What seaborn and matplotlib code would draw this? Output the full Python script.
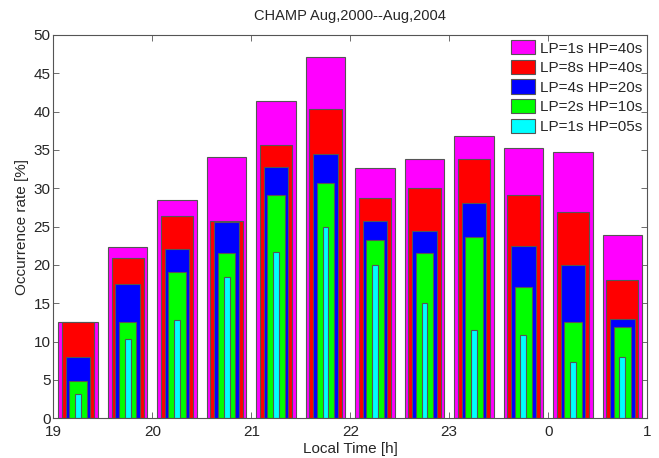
import matplotlib
matplotlib.use("Agg")
import matplotlib.pyplot as plt
from matplotlib.patches import Patch
import seaborn as sns
import pandas as pd

# Data
hours = [19.25, 19.75, 20.25, 20.75, 21.25, 21.75, 22.25, 22.75, 23.25, 23.75, 24.25, 24.75]
lp1_hp40 = [12.6, 22.3, 28.5, 34.1, 41.4, 47.1, 32.6, 33.8, 36.8, 35.3, 34.7, 23.9]
lp8_hp40 = [12.6, 20.9, 26.4, 25.7, 35.6, 40.3, 28.7, 30.0, 33.8, 29.1, 26.9, 18.1]
lp4_hp20 = [8.0, 17.5, 22.1, 25.6, 32.8, 34.5, 25.7, 24.4, 28.1, 22.5, 20.0, 12.9]
lp2_hp10 = [4.9, 12.6, 19.1, 21.6, 29.1, 30.7, 23.3, 21.6, 23.6, 17.1, 12.5, 11.9]
lp1_hp05 = [3.2, 10.4, 12.8, 18.4, 21.7, 24.9, 20.0, 15.1, 11.5, 10.8, 7.4, 8.0]
series_labels = ["LP=1s HP=40s", "LP=8s HP=40s", "LP=4s HP=20s", "LP=2s HP=10s", "LP=1s HP=05s"]
tick_positions = [19, 20, 21, 22, 23, 24, 25]
tick_labels = ["19", "20", "21", "22", "23", "0", "1"]

colors = ["#ff00ff", "#ff0000", "#0000ff", "#00ff00", "#00ffff"]
widths = [0.8, 0.65, 0.5, 0.35, 0.12]

sns.set_style("ticks")
plt.rcParams["font.family"] = ["Liberation Sans", "DejaVu Sans"]
plt.rcParams["xtick.direction"] = "in"
plt.rcParams["ytick.direction"] = "in"

fig = plt.figure(figsize=(6.59, 4.58), dpi=100)
ax = fig.add_axes([0.081, 0.0867, 0.901, 0.837])

all_series = [lp1_hp40, lp8_hp40, lp4_hp20, lp2_hp10, lp1_hp05]
for vals, col, w in zip(all_series, colors, widths):
    df = pd.DataFrame({"hour": hours, "rate": vals})
    sns.barplot(data=df, x="hour", y="rate", native_scale=True, width=w,
                color=col, saturation=1, edgecolor="#555555", linewidth=0.8,
                errorbar=None, ax=ax)

ax.set_xlim(19, 25)
ax.set_ylim(0, 50)
ax.set_xticks(tick_positions)
ax.set_xticklabels(tick_labels)
ax.set_yticks(range(0, 51, 5))
ax.tick_params(axis="both", labelsize=11, top=True, right=True, length=4, width=0.6,
               color="#555555")
ax.tick_params(axis="x", pad=5)
ax.tick_params(axis="y", pad=2)
for s in ax.spines.values():
    s.set_visible(True)
    s.set_linewidth(0.8)
    s.set_color("#555555")

ax.set_xlabel("Local Time [h]", fontsize=11, labelpad=2)
ax.set_ylabel("Occurrence rate [%]", fontsize=11, labelpad=3)
ax.set_title("CHAMP Aug,2000--Aug,2004", fontsize=10.5, pad=11)

handles = [Patch(facecolor=c, edgecolor="#555555", linewidth=0.8) for c in colors]
ax.legend(handles, series_labels, loc="upper right", frameon=False, fontsize=11,
          handlelength=1.6, handleheight=1.05, labelspacing=0.28, handletextpad=0.3,
          borderaxespad=0.15, borderpad=0.2)

fig.savefig("out.png", dpi=100)
